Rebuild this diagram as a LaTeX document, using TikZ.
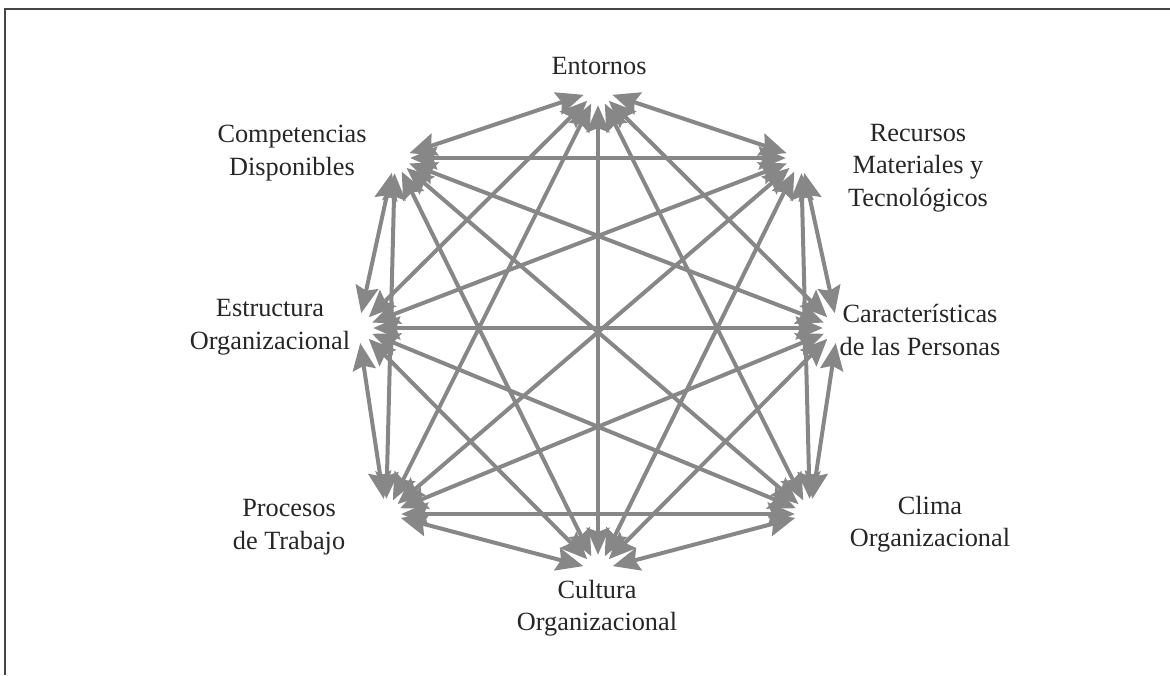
\documentclass[tikz,border=0pt]{standalone}
\usepackage{fontspec}
\setmainfont{Liberation Serif}
\usetikzlibrary{arrows.meta}
\definecolor{linkgray}{RGB}{135,135,135}
\definecolor{framegray}{RGB}{70,70,70}
\begin{document}
\begin{tikzpicture}[x=1pt,y=-1pt,
  vertex/.style={circle,inner sep=0pt,minimum size=30pt},
  lbl/.style={align=center,inner sep=0pt,font=\fontsize{26.3}{32.5}\selectfont,text=black!85},
  link/.style={draw=linkgray,line width=4pt,
    {Stealth[length=27pt,width=23pt,inset=4pt]}-{Stealth[length=27pt,width=23pt,inset=4pt]}},
  frame/.style={draw=framegray,line width=1.6pt}]
\useasboundingbox (0,0) rectangle (1170,675);
% frame
\coordinate (fbl) at (5,675);
\coordinate (ftl) at (5,9);
\coordinate (ftr) at (1170,9);
\draw[frame] (fbl) -- (ftl) -- (ftr);
% vertices
\node[vertex] (E)  at (598,90)  {};
\node[vertex] (R)  at (801,158) {};
\node[vertex] (Ca) at (838,328) {};
\node[vertex] (Cl) at (810,514) {};
\node[vertex] (Cu) at (598,570) {};
\node[vertex] (P)  at (386,514) {};
\node[vertex] (Es) at (358,328) {};
\node[vertex] (Co) at (395,158) {};
% connectors
\foreach \a/\b in {E/R,E/Ca,E/Cl,E/Cu,E/P,E/Es,E/Co,
                   R/Ca,R/Cl,R/Cu,R/P,R/Es,R/Co,
                   Ca/Cl,Ca/Cu,Ca/P,Ca/Es,Ca/Co,
                   Cl/Cu,Cl/P,Cl/Es,Cl/Co,
                   Cu/P,Cu/Es,Cu/Co,
                   P/Es,P/Co,
                   Es/Co}
  \draw[link] (\a) -- (\b);
% labels
\node[lbl] (tE)  at (599,66)    {Entornos};
\node[lbl] (tR)  at (918,168)   {Recursos\\Materiales y\\Tecnológicos};
\node[lbl] (tCa) at (920,330)   {Características\\de las Personas};
\node[lbl] (tCl) at (930,524)   {Clima\\Organizacional};
\node[lbl] (tCu) at (597,608)   {Cultura\\Organizacional};
\node[lbl] (tP)  at (289,527)   {Procesos\\de Trabajo};
\node[lbl] (tEs) at (270,327)   {Estructura\\Organizacional};
\node[lbl] (tCo) at (292,153)   {Competencias\\Disponibles};
\end{tikzpicture}
\end{document}
